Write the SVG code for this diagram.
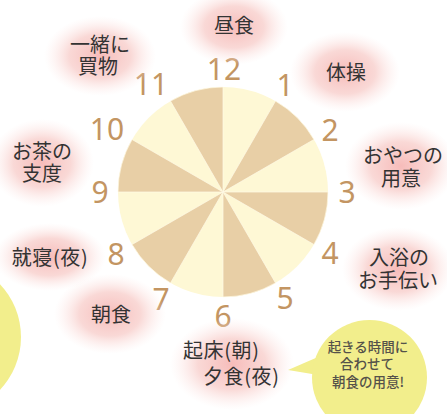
<svg xmlns="http://www.w3.org/2000/svg" width="447" height="414" viewBox="0 0 447 414">
<defs>
<radialGradient id="glow">
<stop offset="0" stop-color="#f6b8b6" stop-opacity="0.95"/>
<stop offset="0.55" stop-color="#f8cfcc" stop-opacity="0.8"/>
<stop offset="1" stop-color="#fde8e6" stop-opacity="0"/>
</radialGradient>
<style>
.g{fill:url(#glow)}
.lb{font-family:"Noto Sans CJK JP","Noto Sans",sans-serif;font-size:20px;fill:#333;text-anchor:middle}
.num{font-family:"Noto Sans","Open Sans",sans-serif;font-size:30px;fill:#c39562;text-anchor:middle}
.tan{fill:#e8cfa6;stroke:#fffbe8;stroke-width:0.7}
.bub{fill:#f2ee8c}
.bt{font-family:"Noto Sans CJK JP","Noto Sans",sans-serif;font-size:13.5px;font-weight:500;fill:#55524a;text-anchor:middle}
</style>
</defs>
<rect width="447" height="414" fill="#fff"/>

<g id="bubble-left">
<circle class="bub" cx="-56" cy="337" r="77"/>
</g>

<g id="clock">
<circle cx="223" cy="192" r="105" fill="#fef8d5"/>
<path class="tan" d="M223,192 L275.5,101.07 A105,105 0 0 1 313.93,139.5 Z"/>
<path class="tan" d="M223,192 L328,192 A105,105 0 0 1 313.93,244.5 Z"/>
<path class="tan" d="M223,192 L275.5,282.93 A105,105 0 0 1 223,297 Z"/>
<path class="tan" d="M223,192 L170.5,282.93 A105,105 0 0 1 132.07,244.5 Z"/>
<path class="tan" d="M223,192 L118,192 A105,105 0 0 1 132.07,139.5 Z"/>
<path class="tan" d="M223,192 L170.5,101.07 A105,105 0 0 1 223,87 Z"/>
</g>

<g id="numbers">
<text class="num" x="224" y="80">12</text>
<text class="num" x="285" y="96">1</text>
<text class="num" x="330" y="141">2</text>
<text class="num" x="347" y="203">3</text>
<text class="num" x="330" y="264">4</text>
<text class="num" x="285" y="309">5</text>
<text class="num" x="223" y="327">6</text>
<text class="num" x="161" y="310">7</text>
<text class="num" x="116" y="265">8</text>
<text class="num" x="100" y="203">9</text>
<text class="num" x="107" y="140">10</text>
<text class="num" x="151" y="95">11</text>
</g>

<g id="label-12">
<ellipse class="g" cx="234" cy="27" rx="54" ry="38"/>
<text class="lb" x="234" y="33">昼食</text>
</g>
<g id="label-1">
<ellipse class="g" cx="345" cy="72" rx="55" ry="40"/>
<text class="lb" x="346" y="80">体操</text>
</g>
<g id="label-3">
<ellipse class="g" cx="401" cy="166" rx="56" ry="44"/>
<text class="lb" x="403" y="163">おやつの</text>
<text class="lb" x="401" y="186">用意</text>
</g>
<g id="label-4">
<ellipse class="g" cx="398" cy="269" rx="56" ry="42"/>
<text class="lb" x="399" y="265">入浴の</text>
<text class="lb" x="398" y="288">お手伝い</text>
</g>
<g id="label-6">
<ellipse class="g" cx="232" cy="364" rx="62" ry="46"/>
<text class="lb" x="183" y="358" style="text-anchor:start;letter-spacing:0.6px">起床(朝)</text>
<text class="lb" x="203" y="384" style="text-anchor:start;letter-spacing:0.6px">夕食(夜)</text>
</g>
<g id="label-7">
<ellipse class="g" cx="110" cy="314" rx="56" ry="40"/>
<text class="lb" x="111" y="322">朝食</text>
</g>
<g id="label-8">
<ellipse class="g" cx="50" cy="257" rx="56" ry="34"/>
<text class="lb" x="50" y="265" style="letter-spacing:0.6px">就寝(夜)</text>
</g>
<g id="label-9">
<ellipse class="g" cx="42" cy="163" rx="52" ry="44"/>
<text class="lb" x="42" y="159">お茶の</text>
<text class="lb" x="42" y="181">支度</text>
</g>
<g id="label-11">
<ellipse class="g" cx="100" cy="56" rx="56" ry="40"/>
<text class="lb" x="100" y="52">一緒に</text>
<text class="lb" x="98" y="74">買物</text>
</g>

<g id="bubble-right">
<path class="bub" d="M288,370 L318,357 L318,375 Z"/>
<circle class="bub" cx="369.5" cy="377.5" r="57.5"/>
<text class="bt" x="368" y="352">起きる時間に</text>
<text class="bt" x="367" y="369">合わせて</text>
<text class="bt" x="368" y="387">朝食の用意!</text>
</g>
</svg>
